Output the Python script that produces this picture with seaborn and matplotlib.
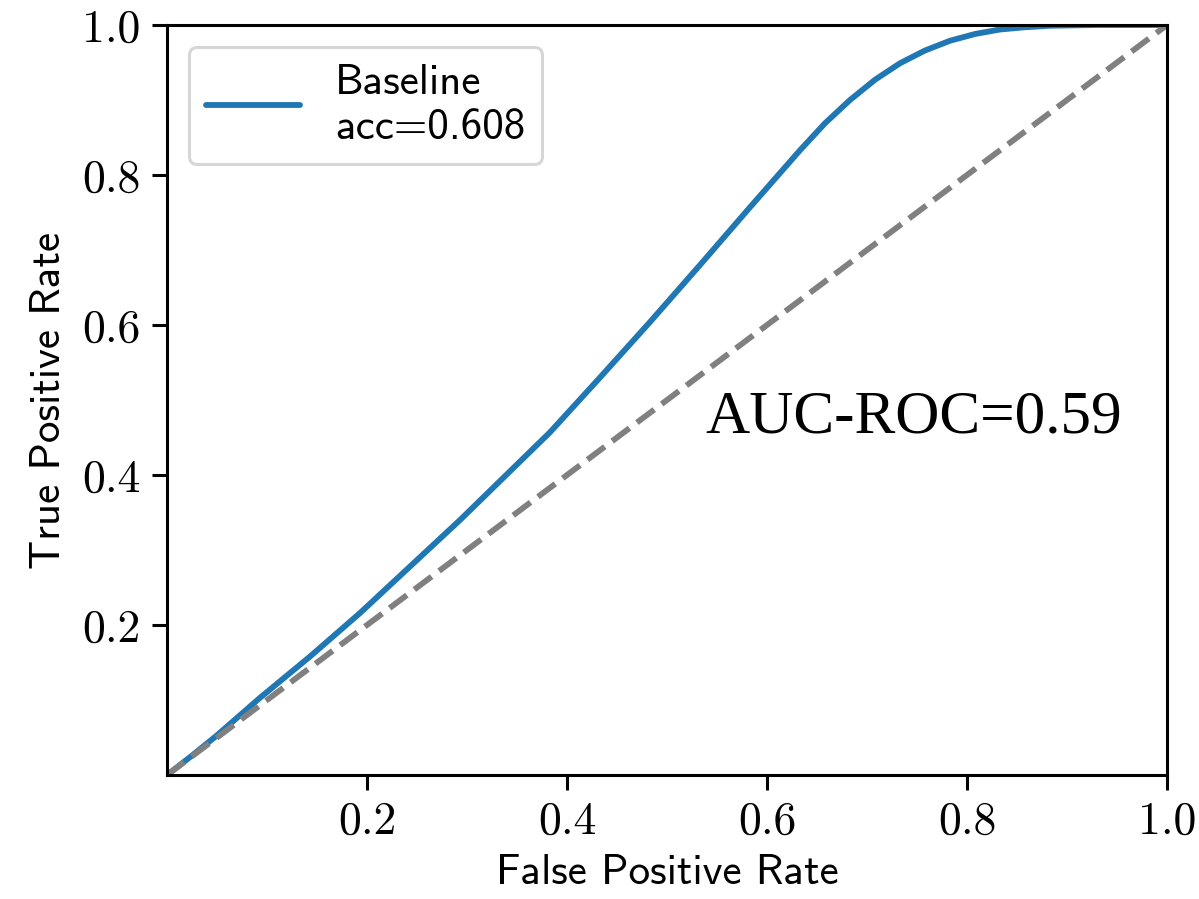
import numpy as np
import pandas as pd
import matplotlib
matplotlib.use("Agg")
import matplotlib.pyplot as plt
import seaborn as sns

# ROC curve
fpr = [0.0, 0.026, 0.05, 0.093, 0.143, 0.193, 0.243, 0.293, 0.343, 0.383,
       0.433, 0.483, 0.533, 0.583, 0.633, 0.658, 0.683, 0.708, 0.733, 0.758,
       0.783, 0.808, 0.833, 0.858, 0.883, 0.93, 1.0]
tpr = [0.0, 0.027, 0.053, 0.103, 0.158, 0.216, 0.278, 0.340, 0.405, 0.457,
       0.530, 0.604, 0.680, 0.757, 0.833, 0.869, 0.900, 0.927, 0.949, 0.966,
       0.979, 0.988, 0.994, 0.997, 0.999, 1.0, 1.0]
chance = [0.0, 1.0]
ticks = [0.2, 0.4, 0.6, 0.8, 1.0]
tick_labels = ["0.2", "0.4", "0.6", "0.8", "1.0"]
legend_label = "Baseline\nacc=0.608"
auc_text = "AUC-ROC=0.59"

sns.set_style("ticks")
plt.rcParams.update({
    "axes.unicode_minus": False,
    "text.color": "black",
    "axes.labelcolor": "black",
    "xtick.color": "black",
    "ytick.color": "black",
    "axes.edgecolor": "black",
})

roc_df = pd.DataFrame({"fpr": fpr, "tpr": tpr})

fig = plt.figure(figsize=(11.99, 8.99), dpi=100)
ax = fig.add_axes([0.1393, 0.1379, 0.8340, 0.8343])

sns.lineplot(data=roc_df, x="fpr", y="tpr", ax=ax, color="#1f77b4",
             linewidth=4.2, label=legend_label, sort=False)
ax.plot(chance, chance, color="gray", linestyle="--", linewidth=4.2)

ax.set_xlim(0, 1)
ax.set_ylim(0, 1)
ax.set_xticks(ticks)
ax.set_yticks(ticks)
ax.set_xticklabels(tick_labels, fontfamily="cmr10", fontsize=33)
ax.set_yticklabels(tick_labels, fontfamily="cmr10", fontsize=33)
ax.tick_params(length=11, width=2.2, pad=8)
for sp in ax.spines.values():
    sp.set_linewidth(2.2)

ax.set_xlabel("False Positive Rate", fontfamily="cmss10", fontsize=31, labelpad=8)
ax.set_ylabel("True Positive Rate", fontfamily="cmss10", fontsize=31, labelpad=10)

ax.text(0.538, 0.477, auc_text, transform=ax.transAxes, fontsize=44,
        fontfamily="Liberation Serif", color="black", ha="left", va="center")

leg = ax.legend(loc="upper left", prop={"family": "cmss10", "size": 31},
                handlelength=2.2, frameon=True, fancybox=True,
                borderpad=0.4, handletextpad=0.8, borderaxespad=0.5)
leg.get_frame().set_linewidth(2.2)
leg.get_frame().set_edgecolor("#cccccc")
for t in leg.get_texts():
    t.set_linespacing(1.25)

fig.savefig("out.png", dpi=100)
